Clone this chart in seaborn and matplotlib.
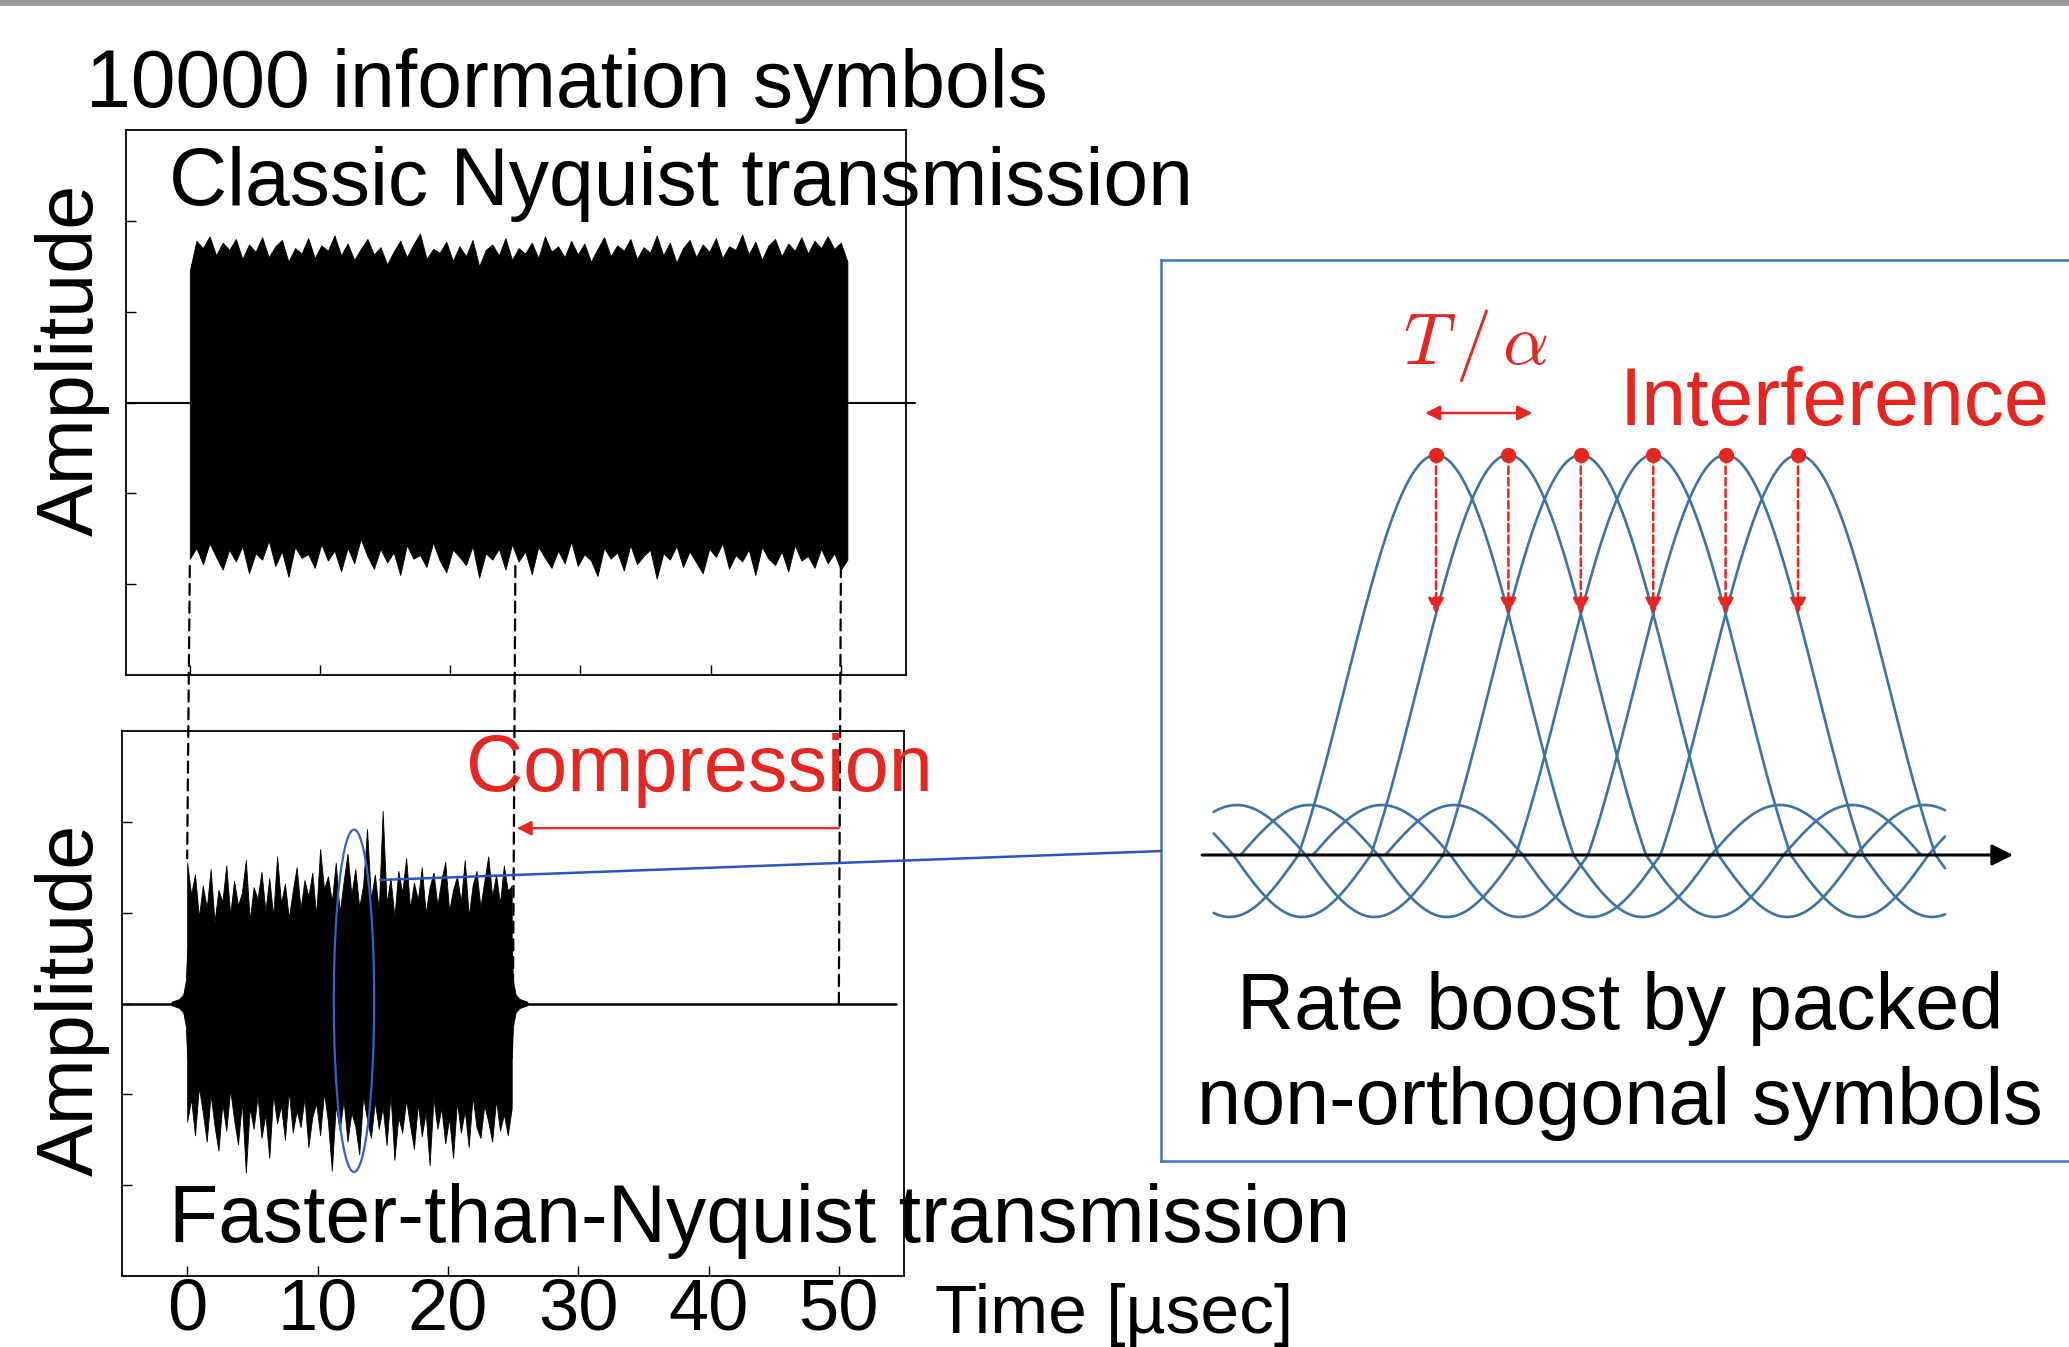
import numpy as np
import pandas as pd
import matplotlib
matplotlib.use("Agg")
import matplotlib.pyplot as plt
from matplotlib.patches import Ellipse, ConnectionPatch, Rectangle
import seaborn as sns

# ---------------- data ----------------
time_ticks = [0, 10, 20, 30, 40, 50]
amp_ticks = [-2, -1, 0, 1, 2]

# classic Nyquist waveform: envelope of the dense trace, 0 .. 50.5 usec
nyq_start, nyq_end = 0.0, 50.5
nyq_upper = [1.45, 1.78, 1.70, 1.83, 1.62, 1.76, 1.68, 1.80, 1.58, 1.74,
             1.66, 1.82, 1.60, 1.72, 1.79, 1.55, 1.70, 1.64, 1.81, 1.59,
             1.73, 1.67, 1.84, 1.62, 1.75, 1.57, 1.69, 1.80, 1.63, 1.71,
             1.52, 1.66, 1.78, 1.60, 1.74, 1.86, 1.58, 1.69, 1.65, 1.77,
             1.56, 1.72, 1.61, 1.79, 1.50, 1.68, 1.74, 1.62, 1.81, 1.57,
             1.70, 1.64, 1.76, 1.59, 1.83, 1.66, 1.72, 1.60, 1.78, 1.63,
             1.75, 1.55, 1.69, 1.82, 1.61, 1.73, 1.67, 1.80, 1.58, 1.71,
             1.65, 1.84, 1.62, 1.76, 1.54, 1.70, 1.79, 1.60, 1.74, 1.66,
             1.81, 1.59, 1.72, 1.68, 1.85, 1.63, 1.77, 1.57, 1.73, 1.80,
             1.61, 1.75, 1.67, 1.82, 1.64, 1.78, 1.70, 1.83, 1.69, 1.76,
             1.55]
nyq_lower = [-1.72, -1.60, -1.78, -1.55, -1.70, -1.84, -1.62, -1.75, -1.58, -1.88,
             -1.66, -1.73, -1.52, -1.80, -1.64, -1.92, -1.59, -1.71, -1.67, -1.82,
             -1.56, -1.74, -1.63, -1.86, -1.60, -1.77, -1.50, -1.69, -1.83, -1.61,
             -1.76, -1.65, -1.90, -1.57, -1.72, -1.68, -1.81, -1.54, -1.74, -1.87,
             -1.62, -1.70, -1.79, -1.58, -1.93, -1.66, -1.73, -1.61, -1.84, -1.56,
             -1.75, -1.64, -1.89, -1.59, -1.71, -1.82, -1.63, -1.77, -1.53, -1.80,
             -1.67, -1.74, -1.91, -1.60, -1.72, -1.65, -1.85, -1.57, -1.78, -1.69,
             -1.62, -1.94, -1.66, -1.73, -1.58, -1.81, -1.64, -1.76, -1.88, -1.61,
             -1.70, -1.55, -1.83, -1.68, -1.75, -1.62, -1.90, -1.59, -1.72, -1.79,
             -1.64, -1.86, -1.57, -1.74, -1.69, -1.82, -1.61, -1.77, -1.66, -1.84,
             -1.73]

# faster-than-Nyquist waveform: same symbols packed into 0 .. 24.9 usec
ftn_start, ftn_end = 0.0, 24.9
ftn_upper = [1.55, 1.20, 1.42, 0.95, 1.30, 1.05, 1.48, 0.90, 1.25, 1.12,
             1.52, 0.98, 1.35, 1.08, 1.22, 1.58, 0.92, 1.28, 1.15, 1.45,
             1.02, 1.38, 0.96, 1.62, 1.10, 1.32, 0.94, 1.24, 1.50, 1.04,
             1.36, 1.18, 1.44, 0.97, 1.70, 1.26, 1.40, 1.12, 1.55, 1.00,
             1.34, 1.65, 1.20, 1.48, 1.06, 1.30, 1.92, 1.15, 1.42, 1.02,
             2.12, 1.10, 1.38, 0.95, 1.46, 1.22, 1.60, 1.05, 1.33, 1.14,
             1.50, 0.99, 1.28, 1.44, 1.08, 1.36, 1.56, 1.02, 1.25, 1.40,
             1.12, 1.58, 0.96, 1.30, 1.46, 1.06, 1.35, 1.62, 1.18, 1.42,
             1.10, 1.52, 1.24, 1.30]
ftn_lower = [-1.30, -1.05, -1.45, -0.92, -1.20, -1.52, -1.00, -1.35, -1.62, -1.10,
             -1.40, -0.95, -1.28, -1.55, -1.08, -1.86, -1.15, -1.38, -1.02, -1.48,
             -1.22, -1.70, -1.00, -1.32, -1.12, -1.50, -0.96, -1.42, -1.18, -1.36,
             -1.04, -1.58, -1.25, -1.10, -1.45, -0.98, -1.30, -1.84, -1.12, -1.40,
             -1.06, -1.52, -1.20, -1.35, -1.66, -1.02, -1.28, -1.48, -1.08, -1.38,
             -1.14, -1.56, -1.00, -1.72, -1.25, -1.42, -1.06, -1.34, -1.60, -1.10,
             -1.46, -1.20, -1.78, -1.04, -1.38, -1.15, -1.54, -1.26, -1.70, -1.08,
             -1.42, -1.18, -1.58, -1.02, -1.36, -1.48, -1.12, -1.30, -1.52, -1.06,
             -1.40, -1.22, -1.45, -1.15]
# ringing just outside the FTN burst
tail_dt = [0.0, 0.1, 0.3, 0.6, 1.2]
tail_amp = [0.6, 0.25, 0.1, 0.05, 0.02]

guide_times = [0, 25, 50]
guide_ends = [1.6, 0.1, 0.0]

# right panel: packed pulses, spacing T/alpha = 1
pulse_centers = [0, 1, 2, 3, 4, 5]
zero_cross = 1.9            # main lobe half width, in units of T/alpha
side_lobes = [-0.155, 0.125]
pulse_span = (-3.07, 7.03)

RED = "#e8251f"
PULSE_BLUE = "#3d72a8"
LINK_BLUE = "#2d52c2"

sns.set_theme(style="white")
plt.rcParams["font.family"] = ["Liberation Sans", "DejaVu Sans"]
plt.rcParams["mathtext.fontset"] = "cm"
plt.rcParams["text.color"] = "black"
plt.rcParams["xtick.color"] = "black"
plt.rcParams["ytick.color"] = "black"

W, H = 2069, 1347
fig = plt.figure(figsize=(W / 100, H / 100), dpi=100)
fig.patch.set_facecolor("white")


def fx(px):
    return px / W


def fy(py):
    return 1 - py / H


ax_top = fig.add_axes([fx(126), fy(675), (906 - 126) / W, (675 - 130) / H])
ax_bot = fig.add_axes([fx(122), fy(1276), (904 - 122) / W, (1276 - 731) / H])
axp = fig.add_axes([fx(1161), fy(1161), (2110 - 1161) / W, (1161 - 260) / H])

for ax in (ax_top, ax_bot):
    ax.set_ylim(-3, 3)
    ax.set_xticks(time_ticks)
    ax.set_yticks(amp_ticks)
    ax.tick_params(direction="in", length=7, width=1, color="black",
                   labelcolor="black", labelsize=52, pad=1, labelleft=False,
                   bottom=True, left=True, top=False, right=False)
    for s in ax.spines.values():
        s.set_color("black")
        s.set_linewidth(1.3)
    ax.set_facecolor("white")
ax_top.set_xlim(-4.9, 55)
ax_bot.set_xlim(-5, 55)
ax_top.tick_params(labelbottom=False)
ax_bot.set_xticklabels([str(t) for t in time_ticks])

# classic Nyquist trace
t_nyq = np.linspace(nyq_start, nyq_end, len(nyq_upper))
ax_top.fill_between(t_nyq, nyq_lower, nyq_upper, color="black", lw=0.6)
ax_top.plot([-4.9, 55.7], [0, 0], color="black", lw=1.5, clip_on=False, zorder=1)

# FTN trace
t_ftn = np.linspace(ftn_start, ftn_end, len(ftn_upper))
ax_bot.fill_between(t_ftn, ftn_lower, ftn_upper, color="black", lw=0.6)
tl = ftn_start - np.array(tail_dt)
tr = ftn_end + np.array(tail_dt)
ta = np.array(tail_amp)
ax_bot.fill_between(tl, -ta, ta, color="black", lw=0.6)
ax_bot.fill_between(tr, -ta, ta, color="black", lw=0.6)
ax_bot.plot([-5, 54.4], [0, 0], color="black", lw=1.8, zorder=1)

# compression arrow
ax_bot.annotate("", xy=(25.3, 1.93), xytext=(50, 1.93),
                arrowprops=dict(arrowstyle="-|>", color=RED, lw=1.6,
                                mutation_scale=22, shrinkA=0, shrinkB=0))

# zoom ellipse
ax_bot.add_patch(Ellipse((12.8, 0.03), 3.1, 3.77, fill=False,
                         edgecolor="#3b5fc9", lw=1.6, zorder=5))

# dashed guides between the two traces
for t, end in zip(guide_times, guide_ends):
    cp = ConnectionPatch(xyA=(t, -1.8), coordsA=ax_top.transData,
                         xyB=(t, end), coordsB=ax_bot.transData,
                         color="black", lw=1.6, linestyle=(0, (5, 3)))
    fig.add_artist(cp)

# ---------------- right panel ----------------
axp.set_xlim(-3.798, 9.309)
axp.set_ylim(-0.765, 1.4875)
axp.set_xticks([])
axp.set_yticks([])
for s in axp.spines.values():
    s.set_color("#4472c4")
    s.set_linewidth(1.8)


def pulse(u):
    a = np.abs(u)
    y = np.zeros_like(u)
    m = a < 1
    y[m] = np.sinc(u[m])
    for k, h in enumerate(side_lobes):
        m = (a >= k + 1) & (a < k + 2)
        y[m] = h * np.sin(np.pi * (a[m] - k - 1))
    return y


frames = []
for c in pulse_centers:
    x = np.linspace(max(c - 3 * zero_cross, pulse_span[0]),
                    min(c + 3 * zero_cross, pulse_span[1]), 400)
    frames.append(pd.DataFrame({"x": x, "y": pulse((x - c) / zero_cross), "pulse": c}))
pulses = pd.concat(frames, ignore_index=True)
sns.lineplot(data=pulses, x="x", y="y", units="pulse", estimator=None, sort=False,
             color=PULSE_BLUE, lw=1.9, ax=axp, zorder=2)
axp.set_xlabel("")
axp.set_ylabel("")

# time axis arrow
axp.annotate("", xy=(7.97, 0), xytext=(-3.23, 0),
             arrowprops=dict(arrowstyle="-|>", color="black", lw=2.2,
                             mutation_scale=32, shrinkA=0, shrinkB=0), zorder=3)

# interference arrows
level = pulse(np.array([1 / zero_cross]))[0]
for c in pulse_centers:
    axp.annotate("", xy=(c, level), xytext=(c, 1.0),
                 arrowprops=dict(arrowstyle="-|>", color=RED, lw=1.8,
                                 linestyle=(0, (3, 1.6)), mutation_scale=24,
                                 shrinkA=0, shrinkB=0), zorder=4)
axp.plot(pulse_centers, [1.0] * len(pulse_centers), "o", color=RED, ms=10, zorder=5)

axp.annotate("", xy=(1.33, 1.105), xytext=(-0.15, 1.105),
             arrowprops=dict(arrowstyle="<|-|>", color=RED, lw=1.8,
                             mutation_scale=22, shrinkA=0, shrinkB=0))
axp.text(0.55, 1.2275, r"$T\,/\,\alpha$", color=RED, fontsize=52,
         ha="center", va="baseline")
axp.text(2.54, 1.075, "Interference", color=RED, fontsize=58,
         ha="left", va="baseline", clip_on=False)
axp.text(2.54, -0.435, "Rate boost by packed", color="black", fontsize=57,
         ha="center", va="baseline")
axp.text(2.54, -0.6725, "non-orthogonal symbols", color="black", fontsize=57,
         ha="center", va="baseline")

# link from ellipse to the panel
fig.add_artist(ConnectionPatch(xyA=(14.8, 1.36), coordsA=ax_bot.transData,
                               xyB=(0, 0.344), coordsB=axp.transAxes,
                               color=LINK_BLUE, lw=1.8))

# ---------------- figure texts ----------------
fig.text(fx(86), fy(107), "10000 information symbols", fontsize=58, va="baseline")
fig.text(fx(169), fy(205), "Classic Nyquist transmission", fontsize=58, va="baseline")
fig.text(fx(169), fy(1242), "Faster-than-Nyquist transmission", fontsize=58, va="baseline")
fig.text(fx(466), fy(791), "Compression", fontsize=57, color=RED, va="baseline")
fig.text(fx(935), fy(1333), "Time [\u00b5sec]", fontsize=50, va="baseline")
for yc in (360, 1000):
    fig.text(fx(72), fy(yc), "Amplitude", fontsize=57, rotation=90,
             ha="center", va="center")

# slide header strip
fig.add_artist(Rectangle((0, fy(6)), 1, 6 / H, transform=fig.transFigure,
                         color="#9a9a9a", lw=0))

fig.savefig("out.png", dpi=100)
